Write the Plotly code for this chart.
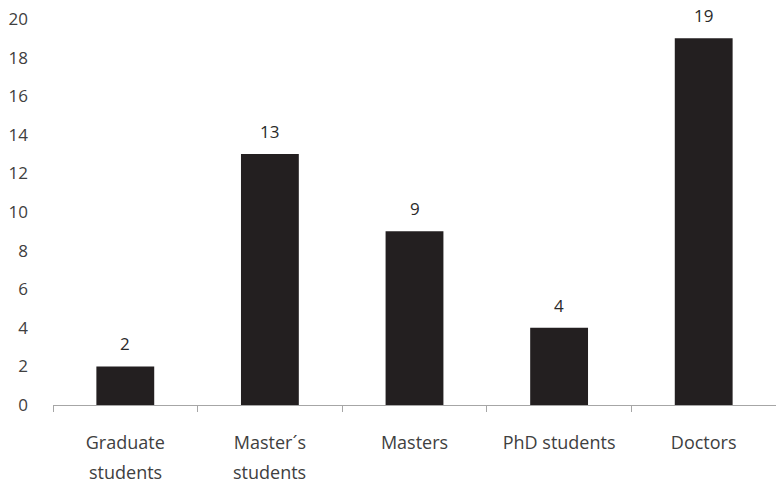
import plotly.graph_objects as go

# Survey respondents by academic level
categories = ["Graduate|students", "Master´s|students", "Masters", "PhD students", "Doctors"]
counts = [2, 13, 9, 4, 19]
y_ticks = [0, 2, 4, 6, 8, 10, 12, 14, 16, 18, 20]

FONT = "Open Sans"
SIZE = 18
TEXT_COLOR = "#404040"
BAR_COLOR = "#231f20"
AXIS_COLOR = "#a6a6a6"

first_lines = [c.split("|")[0] for c in categories]
second_lines = [c.split("|")[1] if "|" in c else "" for c in categories]

fig = go.Figure(
    go.Bar(
        x=categories,
        y=counts,
        marker=dict(color=BAR_COLOR, line=dict(width=0)),
        width=0.4,
    )
)

annotations = []
# value labels above the bars
for c, v in zip(categories, counts):
    annotations.append(dict(
        x=c, y=v, xref="x", yref="y", text=str(v), showarrow=False,
        yanchor="bottom", yshift=9,
        font=dict(family=FONT, size=SIZE - 1, color="#2a2a2a"),
    ))
# second line of the two-line category labels
for c, s in zip(categories, second_lines):
    if s:
        annotations.append(dict(
            x=c, y=0, xref="x", yref="paper", text=s, showarrow=False,
            yanchor="middle", yshift=-67,
            font=dict(family=FONT, size=SIZE, color=TEXT_COLOR),
        ))

fig.update_layout(
    width=776, height=486,
    margin=dict(l=53, r=0, t=19, b=81),
    paper_bgcolor="white", plot_bgcolor="white",
    showlegend=False,
    bargap=0.6,
    annotations=annotations,
    font=dict(family=FONT, size=SIZE, color=TEXT_COLOR),
)
fig.update_xaxes(
    type="category",
    tickmode="array", tickvals=categories, ticktext=first_lines,
    tickson="boundaries", ticks="outside", ticklen=6, tickcolor=AXIS_COLOR, tickwidth=1,
    showline=True, linecolor=AXIS_COLOR, linewidth=1,
    showgrid=False, ticklabelstandoff=21,
    tickfont=dict(family=FONT, size=SIZE, color=TEXT_COLOR),
)
fig.update_yaxes(
    range=[0, 20], tickmode="array", tickvals=y_ticks,
    showline=False, showgrid=False, zeroline=False, ticks="",
    ticklabelstandoff=24,
    tickfont=dict(family=FONT, size=SIZE - 1, color=TEXT_COLOR),
)

fig.write_html("out.html")
